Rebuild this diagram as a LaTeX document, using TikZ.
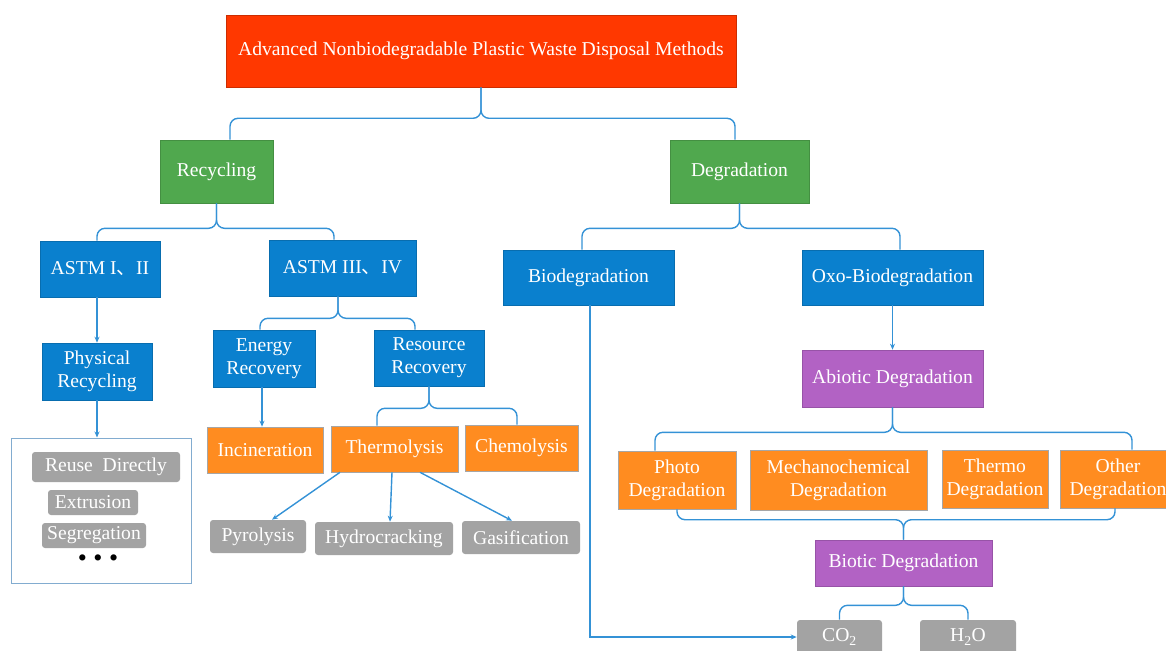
\documentclass[tikz,border=0pt]{standalone}
\usepackage{fontspec}
\setmainfont{Liberation Serif}
\newfontfamily\cjk{Noto Sans CJK SC}
\usetikzlibrary{arrows.meta}

\definecolor{topred}{RGB}{255,56,0}
\definecolor{boxgreen}{RGB}{80,168,78}
\definecolor{boxblue}{RGB}{10,128,206}
\definecolor{boxorange}{RGB}{255,140,32}
\definecolor{boxpurple}{RGB}{178,98,196}
\definecolor{boxgray}{RGB}{163,163,163}
\definecolor{linkblue}{RGB}{52,146,214}
\definecolor{frameblue}{RGB}{130,172,208}

\begin{document}
\begin{tikzpicture}[
	box/.style={rectangle, inner sep=2pt, text=white, align=center, line width=0.6pt, font=\fontsize{19.6}{23}\selectfont},
	redbox/.style={box, fill=topred, draw=topred!80!black},
	greenbox/.style={box, fill=boxgreen, draw=boxgreen!85!black},
	bluebox/.style={box, fill=boxblue, draw=boxblue!85!black},
	orangebox/.style={box, fill=boxorange, draw=black!35},
	purplebox/.style={box, fill=boxpurple, draw=boxpurple!85!black},
	graybox/.style={box, fill=boxgray, draw=none, rounded corners=3pt},
	framebox/.style={rectangle, draw=frameblue, line width=1pt, fill=white},
	brace/.style={draw=linkblue, line width=1.4pt, rounded corners=8pt},
	arrow/.style={draw=linkblue, line width=1.4pt, -{Stealth[length=6pt, width=5pt]}}]
				\useasboundingbox (0pt, 0pt) rectangle (1166pt, -650pt);
				% boxes
				\node (top) [redbox, minimum width=510pt, minimum height=72pt] at (481pt, -51pt) {Advanced Nonbiodegradable Plastic Waste Disposal Methods};
				\node (rec) [greenbox, minimum width=113pt, minimum height=63pt] at (216.5pt, -171.5pt) {Recycling};
				\node (deg) [greenbox, minimum width=139pt, minimum height=63pt] at (739.5pt, -171.5pt) {Degradation};
				\node (astmA) [bluebox, minimum width=120pt, minimum height=56pt] at (100pt, -269pt) {ASTM I{\cjk 、}II};
				\node (astmB) [bluebox, minimum width=147pt, minimum height=56pt] at (342.5pt, -268pt) {ASTM III{\cjk 、}IV};
				\node (phys) [bluebox, minimum width=110pt, minimum height=57pt] at (97pt, -371.5pt) {Physical\\Recycling};
				\node (frame) [framebox, minimum width=180pt, minimum height=145pt] at (101pt, -510.5pt) {};
				\node (reuse) [graybox, minimum width=148pt, minimum height=30pt] at (106pt, -467pt) {Reuse\ \ Directly};
				\node (extr) [graybox, minimum width=90pt, minimum height=25pt] at (93pt, -502.5pt) {Extrusion};
				\node (segr) [graybox, minimum width=104pt, minimum height=25pt] at (94pt, -535.5pt) {Segregation};
				\node (dots) [font=\fontsize{26}{26}\selectfont] at (98pt, -561pt) {\textbullet\ \textbullet\ \textbullet};
				\node (energy) [bluebox, minimum width=102pt, minimum height=57pt] at (264pt, -358.5pt) {Energy\\Recovery};
				\node (resource) [bluebox, minimum width=110pt, minimum height=56pt] at (429pt, -358pt) {Resource\\Recovery};
				\node (incin) [orangebox, minimum width=116pt, minimum height=46pt] at (265pt, -450pt) {Incineration};
				\node (thermo) [orangebox, minimum width=127pt, minimum height=46pt] at (394.5pt, -449pt) {Thermolysis};
				\node (chemo) [orangebox, minimum width=113pt, minimum height=46pt] at (521.5pt, -448pt) {Chemolysis};
				\node (pyro) [graybox, minimum width=96pt, minimum height=33pt] at (258pt, -536.5pt) {Pyrolysis};
				\node (hydro) [graybox, minimum width=138pt, minimum height=33pt] at (384pt, -538.5pt) {Hydrocracking};
				\node (gasi) [graybox, minimum width=118pt, minimum height=33pt] at (521pt, -537.5pt) {Gasification};
				\node (bio) [bluebox, minimum width=171pt, minimum height=55pt] at (588.5pt, -277.5pt) {Biodegradation};
				\node (oxo) [bluebox, minimum width=181pt, minimum height=55pt] at (892.5pt, -277.5pt) {Oxo-Biodegradation};
				\node (abio) [purplebox, minimum width=181pt, minimum height=57pt] at (892.5pt, -378.5pt) {Abiotic Degradation};
				\node (photo) [orangebox, minimum width=118pt, minimum height=58pt] at (677pt, -480pt) {Photo\\Degradation};
				\node (mech) [orangebox, minimum width=177pt, minimum height=60pt] at (838.5pt, -480pt) {Mechanochemical\\Degradation};
				\node (thermd) [orangebox, minimum width=106pt, minimum height=58pt] at (995pt, -479pt) {Thermo\\Degradation};
				\node (other) [orangebox, minimum width=116pt, minimum height=58pt] at (1118pt, -479pt) {Other\\Degradation};
				\node (biotic) [purplebox, minimum width=177pt, minimum height=46pt] at (903.5pt, -563pt) {Biotic Degradation};
				\node (co2) [graybox, minimum width=85pt, minimum height=34pt] at (839.5pt, -637pt) {CO\textsubscript{2}};
				\node (h2o) [graybox, minimum width=96pt, minimum height=34pt] at (968pt, -637pt) {H\textsubscript{2}O};
				% connectors
				\draw [brace] ([xshift=13.5pt]rec.north) |- ([yshift=-31pt]top.south) -- (top.south);
				\draw [brace] ([xshift=-4.5pt]deg.north) |- ([yshift=-31pt]top.south) -- (top.south);
				\draw [brace] ([xshift=-3pt]astmA.north) |- ([yshift=-25pt]rec.south) -- (rec.south);
				\draw [brace] ([xshift=-8.5pt]astmB.north) |- ([yshift=-25pt]rec.south) -- (rec.south);
				\draw [arrow] (phys.north |- astmA.south) -- (phys.north);
				\draw [arrow] (phys.south) -- (phys.south |- frame.north);
				\draw [brace] ([xshift=-4pt]energy.north) |- ([xshift=-4.5pt, yshift=-22pt]astmB.south) -- ([xshift=-4.5pt]astmB.south);
				\draw [brace] ([xshift=-14pt]resource.north) |- ([xshift=-4.5pt, yshift=-22pt]astmB.south) -- ([xshift=-4.5pt]astmB.south);
				\draw [arrow] ([xshift=-2pt]energy.south) -- ([xshift=-2pt]energy.south |- incin.north);
				\draw [brace] ([xshift=-17.5pt]thermo.north) |- ([yshift=-22pt]resource.south) -- (resource.south);
				\draw [brace] ([xshift=-4.5pt]chemo.north) |- ([yshift=-22pt]resource.south) -- (resource.south);
				\draw [arrow] ([xshift=-54.5pt]thermo.south) -- ([xshift=14pt]pyro.north);
				\draw [arrow] ([xshift=-2.5pt]thermo.south) -- ([xshift=6pt]hydro.north);
				\draw [arrow] ([xshift=25.5pt]thermo.south) -- ([xshift=-9pt]gasi.north);
				\draw [brace] ([xshift=-6.5pt]bio.north) |- ([yshift=-25pt]deg.south) -- (deg.south);
				\draw [brace] ([xshift=7.5pt]oxo.north) |- ([yshift=-25pt]deg.south) -- (deg.south);
				\draw [arrow] (oxo.south) -- (abio.north);
				\draw [arrow, rounded corners=0pt] ([xshift=1.5pt]bio.south) |- (co2.west);
				\draw [brace] ([xshift=-22pt]photo.north) |- ([yshift=-25pt]abio.south) -- (abio.south);
				\draw [brace] ([xshift=14pt]other.north) |- ([yshift=-25pt]abio.south) -- (abio.south);
				\draw [brace] (photo.south) |- ([yshift=20pt]biotic.north) -- (biotic.north);
				\draw [brace] ([xshift=-3pt]other.south) |- ([yshift=20pt]biotic.north) -- (biotic.north);
				\draw [brace] (co2.north) |- ([yshift=-19pt]biotic.south) -- (biotic.south);
				\draw [brace] (h2o.north) |- ([yshift=-19pt]biotic.south) -- (biotic.south);
			\end{tikzpicture}
\end{document}
